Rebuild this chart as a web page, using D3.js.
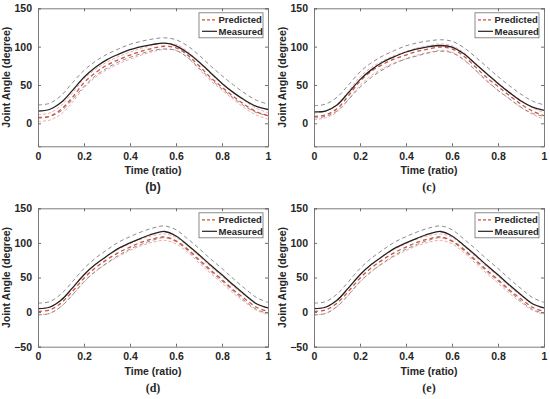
<!DOCTYPE html>
<html>
<head>
<meta charset="utf-8">
<script src="https://cdn.jsdelivr.net/npm/d3@7"></script>
<style>
  body { margin: 0; background: #fff; }
  text { font-family: "Liberation Sans", Arial, sans-serif; font-weight: bold; fill: #262626; }
</style>
</head>
<body>
<div id="wrap"></div>
<script>
// ── Data ─────────────────────────────────────────────────────────────────
const time = d3.range(0, 21).map(i => i / 20);
const xTicks = [0, 0.2, 0.4, 0.6, 0.8, 1];
const panelLabels = ['(b)', '(c)', '(d)', '(e)'];

// (b)
const measB   = [16, 18, 27, 43, 60, 73, 83, 90, 96, 100, 103, 104.5, 101, 92, 80, 66, 52, 40, 30, 22, 18];
const measBHi = [24, 26, 36, 53, 69, 81, 90, 97, 103, 107, 110, 111.5, 109, 101, 89, 75, 62, 50, 39, 30, 25];
const measBLo = [8, 9, 16, 31, 48, 62, 72, 80, 86, 91, 95, 97, 95, 86, 72, 58, 45, 33, 22, 14, 10];
const predB   = [7, 9, 18, 34, 53, 66, 76, 83, 89, 94, 98, 100.5, 98.5, 89, 75, 60, 47, 35, 24, 15, 10];

// (c)
const measC   = [15, 16, 24, 40, 57, 70, 80, 87, 93, 97, 100, 101.5, 99.5, 91, 78, 65, 52, 40, 29, 21, 17];
const measCHi = [23, 25, 34, 50, 67, 79, 88, 95, 101, 105, 107.5, 109, 107, 99, 87, 74, 61, 49, 38, 29, 24];
const measCLo = [7, 9, 16, 31, 47, 60, 70, 78, 84, 88, 92, 94, 92, 83, 70, 56, 43, 32, 21, 13, 9];
const predC   = [9, 11, 19, 36, 55, 68, 77, 84, 89, 94, 97, 99.5, 97, 88, 74, 60, 48, 36, 25, 16, 10];

// (d)
const measD   = [5, 7, 17, 35, 54, 69, 81, 92, 100, 107, 113, 116.5, 110, 97, 83, 68, 54, 39, 25, 12, 6];
const measDHi = [13, 15, 26, 44, 63, 78, 90, 101, 109, 116, 121.5, 124.5, 119, 106, 92, 77, 63, 48, 34, 21, 14];
const measDLo = [-4, -2, 8, 25, 44, 59, 71, 82, 91, 98, 104, 107.5, 102, 89, 74, 59, 45, 30, 16, 4, -2];
const predD   = [1, 3, 13, 30, 49, 64, 76, 86, 94, 101, 106, 108.5, 103, 91, 76, 61, 47, 32, 19, 7, 1];

// (e)
const measE   = [5, 7, 17, 35, 54, 69, 81, 92, 100, 107, 113, 116.5, 110, 97, 83, 68, 54, 39, 25, 12, 6];
const measEHi = [13, 15, 26, 44, 63, 78, 90, 101, 109, 116, 121.5, 124.5, 119, 106, 92, 77, 63, 48, 34, 21, 14];
const measELo = [-4, -2, 8, 25, 44, 59, 71, 82, 91, 98, 104, 107.5, 102, 89, 74, 59, 45, 30, 16, 4, -2];
const predE   = [1, 3, 13, 30, 49, 64, 76, 86, 94, 101, 106, 108.5, 103, 91, 76, 61, 47, 32, 19, 7, 1];

const yDomTop = [-30, 150];
const yDomBot = [-50, 150];
const yTicksTop = [0, 50, 100, 150];
const yTicksBot = [-50, 0, 50, 100, 150];

// ── Layout ───────────────────────────────────────────────────────────────
const W = 550, H = 399;
const panels = [
  { x0: 38,  x1: 268, y0: 8.3,   y1: 146.3, dom: yDomTop, ticks: yTicksTop, m: measB, hi: measBHi, lo: measBLo, p: predB, lab: panelLabels[0], serif: false },
  { x0: 314, x1: 544, y0: 8.3,   y1: 146.3, dom: yDomTop, ticks: yTicksTop, m: measC, hi: measCHi, lo: measCLo, p: predC, lab: panelLabels[1], serif: true },
  { x0: 38,  x1: 268, y0: 208.3, y1: 346.7, dom: yDomBot, ticks: yTicksBot, m: measD, hi: measDHi, lo: measDLo, p: predD, lab: panelLabels[2], serif: true },
  { x0: 314, x1: 544, y0: 208.3, y1: 346.7, dom: yDomBot, ticks: yTicksBot, m: measE, hi: measEHi, lo: measELo, p: predE, lab: panelLabels[3], serif: true }
];

const RED = '#d2503c', GREY = '#8c8c8c', PINK = '#f0a8a8', AXIS = '#6e6e6e';

const svg = d3.select('#wrap').append('svg').attr('width', W).attr('height', H);

panels.forEach(P => {
  const x = d3.scaleLinear().domain([0, 1]).range([P.x0, P.x1]);
  const y = d3.scaleLinear().domain(P.dom).range([P.y1, P.y0]);
  const g = svg.append('g');
  const line = vals => d3.line()
    .x((d, i) => x(time[i])).y(d => y(d))
    .curve(d3.curveCatmullRom.alpha(0.5))(vals);

  // faint predicted band
  const pHi = P.p.map((v, i) => v + (P.hi[i] - P.m[i]) * 0.55);
  const pLo = P.p.map((v, i) => v - (P.m[i] - P.lo[i]) * 0.55);
  [pHi, pLo].forEach(s => g.append('path').attr('d', line(s))
    .attr('fill', 'none').attr('stroke', PINK).attr('stroke-width', 1)
    .attr('stroke-dasharray', '3,2'));

  // measured ± band
  [P.hi, P.lo].forEach(s => g.append('path').attr('d', line(s))
    .attr('fill', 'none').attr('stroke', GREY).attr('stroke-width', 1)
    .attr('stroke-dasharray', '4,3'));

  // predicted mean
  g.append('path').attr('d', line(P.p))
    .attr('fill', 'none').attr('stroke', RED).attr('stroke-width', 1.3)
    .attr('stroke-dasharray', '4,3');

  // measured mean
  g.append('path').attr('d', line(P.m))
    .attr('fill', 'none').attr('stroke', '#222').attr('stroke-width', 1.3);

  // ── Axes (MATLAB-style box, inward ticks on all sides) ───────────────
  const ax = svg.append('g');
  ax.append('g').attr('transform', `translate(0,${P.y1})`)
    .call(d3.axisBottom(x).tickValues(xTicks).tickSize(-3).tickPadding(6).tickFormat(d3.format('~g')));
  ax.append('g').attr('transform', `translate(0,${P.y0})`)
    .call(d3.axisTop(x).tickValues(xTicks).tickSize(-3).tickFormat(''));
  ax.append('g').attr('transform', `translate(${P.x0},0)`)
    .call(d3.axisLeft(y).tickValues(P.ticks).tickSize(-3).tickPadding(6));
  ax.append('g').attr('transform', `translate(${P.x1},0)`)
    .call(d3.axisRight(y).tickValues(P.ticks).tickSize(-3).tickFormat(''));
  ax.selectAll('.domain').attr('stroke', AXIS).attr('stroke-width', 0.9);
  ax.selectAll('.tick line').attr('stroke', AXIS);
  ax.selectAll('.tick text').attr('font-size', 10.5).attr('fill', '#262626')
    .attr('font-family', '"Liberation Sans", Arial, sans-serif').attr('font-weight', 'bold');

  // ── Labels ───────────────────────────────────────────────────────────
  const cx = (P.x0 + P.x1) / 2;
  svg.append('text').attr('x', cx).attr('y', P.y1 + 28)
    .attr('text-anchor', 'middle').attr('font-size', 10.5).text('Time (ratio)');
  svg.append('text')
    .attr('transform', `translate(${P.x0 - 28},${(P.y0 + P.y1) / 2}) rotate(-90)`)
    .attr('text-anchor', 'middle').attr('font-size', 10.5).text('Joint Angle (degree)');
  svg.append('text').attr('x', cx).attr('y', P.y1 + 45)
    .attr('text-anchor', 'middle').attr('font-size', 12)
    .style('font-family', P.serif ? '"Liberation Serif", "Times New Roman", serif' : null)
    .text(P.lab);

  // ── Legend ───────────────────────────────────────────────────────────
  const lx = P.x1 - 69, ly = P.y0 + 4.5;
  const lg = svg.append('g');
  lg.append('rect').attr('x', lx).attr('y', ly).attr('width', 64).attr('height', 25)
    .attr('fill', '#fff').attr('stroke', AXIS).attr('stroke-width', 0.8);
  const items = [
    { name: 'Predicted', color: RED, dash: '3,2' },
    { name: 'Measured', color: '#222', dash: null }
  ];
  items.forEach((it, i) => {
    const yy = ly + 7 + i * 11.5;
    lg.append('line').attr('x1', lx + 3).attr('x2', lx + 18).attr('y1', yy).attr('y2', yy)
      .attr('stroke', it.color).attr('stroke-width', 1.2)
      .attr('stroke-dasharray', it.dash);
    lg.append('text').attr('x', lx + 19.5).attr('y', yy + 3.5)
      .attr('font-size', 9.5).text(it.name);
  });
});
</script>
</body>
</html>
